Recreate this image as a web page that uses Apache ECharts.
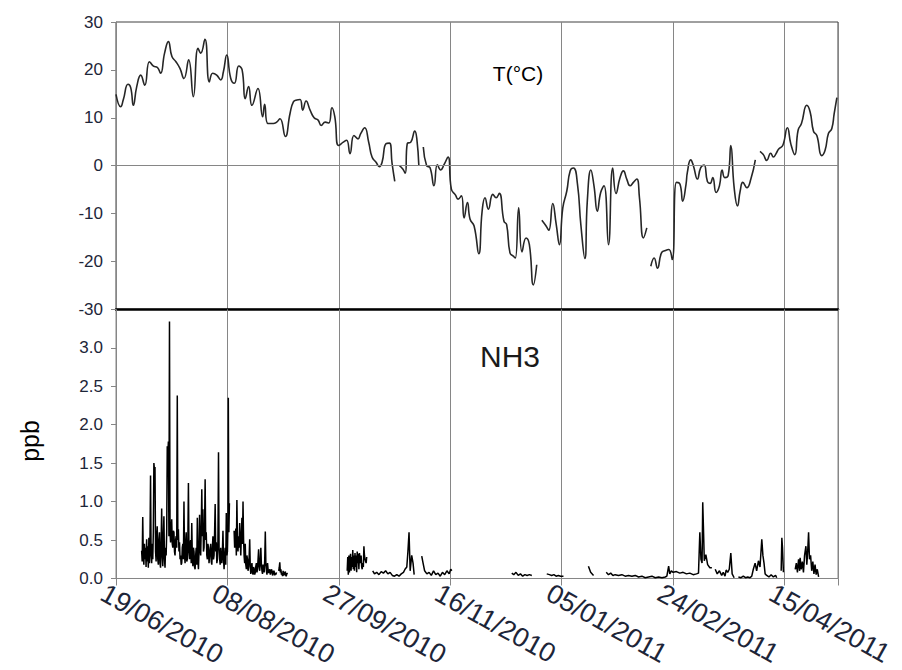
<!DOCTYPE html>
<html>
<head>
<meta charset="utf-8">
<script src="https://cdn.jsdelivr.net/npm/echarts@6/dist/echarts.min.js"></script>
<style>
html,body{margin:0;padding:0;background:#fff;}
#chart{width:902px;height:670px;}
</style>
</head>
<body>
<div id="chart"></div>
<script>
// ---- data (x = days since 19/06/2010) ----
const xTickLabels = ['19/06/2010','08/08/2010','27/09/2010','16/11/2010','05/01/2011','24/02/2011','15/04/2011'];

const tempDay = [0,2.1,3.3,5.4,6.6,7.8,9.3,11.1,12.9,15.0,16.8,18.6,20.0,21.8,23.5,25.1,26.9,28.7,30.5,32.6,34.7,36.8,38.0,39.9,41.9,43.4,45.2,47.0,48.2,49.7,51.5,53.1,55.1,56.6,58.0,59.5,61.0,63.7,65.8,66.7,68.2,70.6,72.1,73.6,76.0,78.1,79.6,81.1,82.6,83.8,85.3,87.1,88.9,90.7,92.1,93.9,95.5,96.9,98.2,99.9,102.0,103.5,105.0,106.8,108.6,109.8,111.6,113.4,114.9,116.7,118.2,119.4,121.2,122.7,123.9,125.1,126.2,127.2,128.7,129.8,130.7,132.3,134.1,135.0,135.9,137.0,137.9,139.4,140.9,142.7,144.2,145.7,147.2,149.0,150.5,152.3,153.5,155.0,156.2,157.7,158.9,160.7,162.8,164.3,165.6,167.1,169.1,170.6,172.0,174.1,175.3,176.8,178.3,179.2,180.7,182.2,184.0,185.5,187.3,188.8,190.0,191.1,193.0,194.2,196.0,197.5,199.0,200.5,202.3,203.8,205.3,207.1,208.6,210.4,211.5,213.1,214.5,216.0,217.5,219.0,221.0,222.9,224.4,226.2,227.7,229.2,230.7,232.2,233.7,234.9,236.7,238.2,239.1,240.0,241.5,243.0,244.8,246.6,248.1,249.6,251.5,253.1,254.3,255.8,256.4,257.9,259.1,260.9,262.4,263.9,265.4,266.6,267.8,269.3,270.8,272.0,273.2,274.7,275.9,277.4,278.9,280.1,281.3,283.1,284.9,286.9,288.0,289.0,290.5,292.0,293.8,295.0,296.2,297.4,299.2,301.3,302.8,304.6,306.1,307.6,310.0,311.5,313.0,314.5,316.7,318.2,319.7,321.2,322.3,323.5];
const tempVal = [14.9,12.3,13.8,17.0,16.3,12.6,16.5,18.9,16.8,21.7,20.8,20.5,19.3,23.5,25.9,22.8,21.7,20.3,18.2,22.1,14.4,24.5,23.5,26.4,17.5,19.3,18.9,17.9,19.6,23.1,18.2,17.2,20.8,20.0,14.0,16.5,12.6,16.1,10.2,12.8,8.8,8.8,9.1,9.8,6.1,10.9,13.3,13.7,13.8,11.6,13.5,11.6,10.0,9.5,8.4,9.1,8.9,12.1,10.2,4.2,4.9,5.3,2.5,6.3,5.6,6.7,7.9,4.9,1.8,0.7,-0.2,0.7,4.6,4.7,0.4,-3.3,null,0,-0.7,-1.6,4.6,4.9,7.2,5.6,0,null,3.9,0,-0.4,-4.2,0.2,-0.9,0.2,1.8,-4.9,-6.1,-7.0,-6.3,-10.9,-7.7,-11.2,-12.6,-18.4,-9.5,-6.7,-9.1,-6.0,-6.7,-5.8,-11.6,-12.3,-18.2,-18.9,-19.3,-8.8,-18.0,-15.1,-16.5,-24.9,-20.7,null,-11.4,-12.6,-13.5,-7.9,-12.1,-16.5,-8.8,-5.3,-1.1,-0.5,-3.9,-12.3,-19.4,-7.4,-0.9,-4.2,-9.5,-5.6,-4.2,-16.5,-0.5,-5.8,-2.5,-1.1,-2.8,-4.2,-3.5,-2.8,-6.7,-15.1,-13.0,null,-21.0,-19.3,-21.4,-18.2,-17.7,-17.5,-19.6,-3.5,-3.9,-7.4,-3.9,-1.4,1.2,0,-2.8,-0.4,0.1,-3.3,-3.7,-2.5,-5.6,-4.2,-0.9,-2.5,-2.1,4.2,-4.6,-8.4,-5.3,-3.5,-4.6,-2.8,1.2,null,3.0,2.3,1.1,2.6,1.8,2.5,3.5,4.2,7.9,4.6,2.3,7.4,8.8,12.6,11.2,7.2,6.3,2.1,3.2,6.7,7.7,10.9,14.2];

const nh3Day = [
11.50,11.75,12.00,12.25,12.50,12.75,13.00,13.25,13.50,13.75,14.00,14.25,14.50,14.75,15.00,15.25,
15.50,15.75,16.00,16.25,16.50,16.75,17.00,17.25,17.50,17.75,18.00,18.25,18.50,18.75,19.00,19.25,19.50,19.75,
20.00,20.25,20.50,20.75,21.00,21.25,21.50,21.75,22.00,22.25,22.50,22.75,23.00,23.25,23.50,23.75,
24.00,24.25,24.50,24.75,25.00,25.25,25.50,25.75,26.00,26.25,26.50,26.75,27.00,27.25,27.50,27.75,
28.00,28.25,28.50,28.75,29.00,29.25,29.50,29.75,30.00,30.25,30.50,30.75,31.00,31.25,31.50,31.75,
32.00,32.25,32.50,32.75,33.00,33.25,33.50,33.75,34.00,34.25,34.50,34.75,35.00,35.25,35.50,35.75,
36.00,36.25,36.50,36.75,37.00,37.25,37.50,37.75,38.00,38.25,38.50,38.75,39.00,39.25,39.50,39.75,
40.00,40.25,40.50,40.75,41.00,41.25,41.50,41.75,42.00,42.25,42.50,42.75,43.00,43.25,43.50,43.75,
44.00,44.25,44.50,44.75,45.00,45.25,45.50,45.75,46.00,46.25,46.50,46.75,47.00,47.25,47.50,47.75,
48.00,48.25,48.50,48.75,49.00,49.25,49.50,49.75,50.00,50.25,50.40,50.65,50.90,51.20,
53.00,53.25,53.50,53.75,54.00,54.25,54.50,54.75,55.00,55.25,55.50,55.75,56.00,56.25,56.50,56.75,
57.00,57.25,57.50,57.75,58.00,58.25,58.50,58.75,59.00,59.25,59.50,59.75,60.00,60.25,60.50,60.75,
61.00,61.25,61.50,61.75,62.00,62.25,62.50,62.75,63.00,63.25,63.50,63.75,64.00,64.25,64.50,64.75,
65.00,65.25,65.50,65.75,66.00,66.25,66.50,66.75,67.00,67.25,67.50,67.75,68.00,68.25,68.50,68.75,
69.00,69.25,69.50,69.75,70.00,70.25,70.50,70.75,71.00,71.25,71.50,71.75,72.00,72.50,
73.00,73.25,73.50,73.75,74.00,74.25,74.50,74.75,75.00,75.25,75.50,75.75,76.00,76.25,76.50,76.75,77.00,77.50,
103.75,104.00,104.25,104.50,104.75,105.00,105.25,105.50,105.75,106.00,106.25,106.50,106.75,107.00,107.25,107.50,
107.75,108.00,108.25,108.50,108.75,109.00,109.25,109.50,109.75,110.00,110.25,110.50,110.75,111.00,111.25,111.50,
111.75,112.00,112.25,112.50,113.00,
115.2,116.0,117.0,118.0,119.0,120.0,121.0,122.0,123.0,124.0,125.0,126.0,127.0,128.0,129.0,129.7,130.5,131.0,131.5,132.0,132.7,133.3,133.8,135.0,
137.2,137.8,138.5,139.5,140.5,141.5,142.5,143.5,144.5,145.5,146.5,147.5,148.5,149.5,150.2,150.7,151.5,
177.6,178.5,179.5,180.5,181.5,182.5,183.5,184.5,185.5,186.6,187.5,
193.3,194.5,195.5,196.5,197.5,198.5,199.5,200.8,201.5,
212.0,213.0,214.3,215.0,
220.0,221.0,222.0,223.0,224.0,225.5,227.0,228.5,230.0,231.5,233.0,234.5,236.0,237.5,239.0,240.5,242.0,243.5,245.0,246.5,247.2,248.0,248.5,249.2,250.0,251.5,253.0,254.5,256.0,257.5,259.0,260.5,261.4,262.0,262.5,263.0,263.3,263.6,264.0,264.7,265.5,266.5,267.4,268.2,
268.9,269.8,270.8,271.8,272.5,273.3,273.8,274.5,275.2,275.9,276.5,277.4,278.3,
279.3,280.5,281.5,282.5,283.5,284.5,285.3,286.0,286.8,287.5,288.3,289.0,289.8,290.3,290.8,291.3,292.0,293.0,294.0,295.0,296.0,296.5,297.5,
298.5,298.8,299.1,299.5,302.0,
304.8,305.3,305.8,306.3,306.8,307.0,307.5,308.0,308.5,309.0,309.6,310.0,310.4,310.8,311.2,311.7,312.2,312.7,313.2,313.7,314.2,314.7,315.3];
const nh3Val = [
0.36,0.22,0.80,0.30,0.18,0.45,0.25,0.40,0.15,0.51,0.22,0.42,0.14,0.53,0.20,0.48,
1.34,0.30,0.20,0.45,0.25,0.60,1.50,1.42,1.45,0.35,0.22,0.55,0.68,0.25,0.18,0.50,0.60,0.20,
0.14,0.45,0.91,0.30,0.16,0.55,0.81,0.25,0.14,0.40,0.30,0.60,1.72,1.60,1.78,0.55,
3.34,0.60,0.47,0.65,0.77,0.45,0.40,0.62,0.60,0.35,0.30,0.50,0.55,0.40,2.38,0.50,
0.64,0.35,0.47,0.25,0.30,0.18,0.20,0.40,0.45,0.25,1.00,0.30,0.20,0.45,0.60,0.22,
0.25,0.50,1.24,0.35,0.25,0.45,0.50,0.20,0.72,0.30,0.16,0.40,0.35,0.15,0.12,0.30,
0.40,0.18,0.79,0.25,0.12,0.35,0.83,0.40,0.30,0.65,1.16,0.55,0.90,0.35,0.40,0.70,
1.29,0.50,0.60,0.30,0.25,0.45,0.40,0.20,0.20,0.38,0.45,0.22,0.18,0.40,0.55,0.25,
0.30,0.60,0.97,0.35,0.47,0.20,0.25,0.50,1.64,0.40,0.25,0.18,0.40,0.22,0.20,0.35,
0.62,0.25,0.12,0.30,0.40,0.18,0.85,0.30,0.35,0.70,2.35,0.60,0.98,null,
0.62,0.40,0.47,0.65,0.30,1.02,0.50,0.35,0.55,0.40,0.72,0.50,0.30,0.55,0.79,0.45,
1.00,0.50,0.29,0.20,0.45,0.18,0.12,0.30,0.25,0.10,0.15,0.28,0.51,0.15,0.06,0.14,
0.20,0.08,0.05,0.15,0.12,0.05,0.08,0.16,0.20,0.08,0.12,0.25,0.38,0.15,0.10,0.22,
0.40,0.18,0.10,0.06,0.18,0.10,0.08,0.25,0.61,0.20,0.10,0.05,0.20,0.12,0.07,0.10,
0.12,0.05,0.08,0.12,0.10,0.04,0.06,0.10,0.09,0.04,0.07,0.05,0.08,null,
0.10,0.14,0.21,0.08,0.12,0.05,0.06,0.03,0.10,0.04,0.05,0.08,0.09,0.03,0.04,0.07,0.06,null,
0.10,0.28,0.05,0.30,0.08,0.25,0.32,0.10,0.28,0.15,0.37,0.12,0.30,0.10,0.33,0.15,
0.30,0.08,0.35,0.20,0.32,0.12,0.33,0.25,0.20,0.30,0.15,0.12,0.20,0.15,0.42,0.30,
0.25,0.22,0.20,0.28,null,
0.10,0.06,0.08,0.05,0.09,0.07,0.10,0.06,0.08,0.04,0.03,0.05,0.03,0.06,0.08,0.12,0.15,0.35,0.60,0.10,0.30,0.20,0.05,null,
0.29,0.20,0.10,0.06,0.08,0.04,0.10,0.05,0.07,0.03,0.08,0.05,0.10,0.06,0.12,0.10,null,
0.07,0.05,0.08,0.04,0.06,0.03,0.05,0.04,0.05,0.04,null,
0.06,0.05,0.04,0.05,0.03,0.04,0.03,0.03,null,
0.16,0.08,0.04,null,
0.08,0.05,0.07,0.04,0.05,0.04,0.05,0.03,0.04,0.03,0.04,0.02,0.03,0.01,0.02,0.03,0.01,0.02,0.01,0.02,0.03,0.16,0.06,0.10,0.08,0.09,0.07,0.08,0.06,0.07,0.05,0.06,0.07,0.60,0.25,0.20,0.99,0.68,0.23,0.31,0.18,0.14,0.14,null,
0.12,0.06,0.10,0.04,0.08,0.03,0.11,0.08,0.12,0.33,0.06,0.01,null,
0.02,0.01,0.03,0.01,0.02,0.01,0.03,0.12,0.20,0.10,0.23,0.15,0.51,0.30,0.20,0.06,0.04,0.02,0.05,0.02,0.04,0.01,null,
0.10,0.53,0.40,0.08,null,
0.12,0.20,0.08,0.25,0.10,0.27,0.12,0.22,0.08,0.30,0.42,0.18,0.35,0.60,0.25,0.30,0.10,0.22,0.06,0.18,0.05,0.12,0.02];

// ---- chart ----
const FONT = '"Liberation Sans", Arial, sans-serif';
const GRID_GRAY = '#868686';
const LABEL_COLOR = '#1d2538';

function xLabel(v) {
  const i = v / 50;
  const k = Math.round(i);
  return (Math.abs(i - k) < 1e-6 && xTickLabels[k]) ? xTickLabels[k] : '';
}

const tempData = tempDay.map((d, i) => [d, tempVal[i]]);
const nh3Data = nh3Day.map((d, i) => [d, nh3Val[i]]);

const chart = echarts.init(document.getElementById('chart'), null, {renderer: 'svg'});
chart.setOption({
  animation: false,
  backgroundColor: '#ffffff',
  textStyle: {fontFamily: FONT},
  grid: [
    {left: 116, right: 64, top: 22, height: 287.3, show: true, borderColor: '#404040', borderWidth: 1, backgroundColor: 'transparent'},
    {left: 116, right: 64, top: 309.3, height: 270, show: true, borderColor: GRID_GRAY, borderWidth: 1, backgroundColor: 'transparent'}
  ],
  xAxis: [
    {
      gridIndex: 0, type: 'value', min: 0, max: 324, interval: 50,
      axisLine: {show: true, onZero: false, lineStyle: {color: '#000000', width: 2.5}},
      axisTick: {show: true, length: 5, lineStyle: {color: GRID_GRAY}},
      axisLabel: {show: false},
      splitLine: {show: true, lineStyle: {color: GRID_GRAY, width: 1}}
    },
    {
      gridIndex: 1, type: 'value', min: 0, max: 324, interval: 50,
      axisLine: {show: true, onZero: false, lineStyle: {color: GRID_GRAY, width: 1}},
      axisTick: {show: true, length: 7, lineStyle: {color: GRID_GRAY}},
      axisLabel: {
        show: true, rotate: -29, margin: 20, fontSize: 27, fontFamily: FONT, color: LABEL_COLOR,
        padding: [0, 0, 0, -15], formatter: xLabel
      },
      splitLine: {show: true, lineStyle: {color: GRID_GRAY, width: 1}}
    }
  ],
  yAxis: [
    {
      gridIndex: 0, type: 'value', min: -30, max: 30, interval: 10,
      axisLine: {show: true, lineStyle: {color: GRID_GRAY}},
      axisTick: {show: true, length: 5, lineStyle: {color: GRID_GRAY}},
      axisLabel: {fontSize: 17, fontFamily: FONT, color: LABEL_COLOR, margin: 13},
      splitLine: {show: false}
    },
    {
      gridIndex: 1, type: 'value', min: 0, max: 3.5, interval: 0.5,
      axisLine: {show: true, lineStyle: {color: GRID_GRAY}},
      axisTick: {show: true, length: 5, lineStyle: {color: GRID_GRAY}},
      axisLabel: {fontSize: 17, fontFamily: FONT, color: LABEL_COLOR, margin: 13,
        formatter: v => (v > 3.4 ? '' : v.toFixed(1))},
      splitLine: {show: false}
    }
  ],
  series: [
    {
      name: 'T', type: 'line', xAxisIndex: 0, yAxisIndex: 0, data: tempData,
      showSymbol: false, smooth: 0.5, connectNulls: false,
      lineStyle: {color: '#262626', width: 1.6},
      markLine: {silent: true, symbol: 'none', label: {show: false},
        lineStyle: {color: GRID_GRAY, type: 'solid', width: 1}, data: [{yAxis: 0}]},
      z: 3
    },
    {
      name: 'NH3', type: 'line', xAxisIndex: 1, yAxisIndex: 1, data: nh3Data,
      showSymbol: false, connectNulls: false,
      lineStyle: {color: '#000000', width: 1.5},
      z: 3
    }
  ],
  graphic: [
    {type: 'text', x: 518, y: 73, style: {text: 'T(°C)', font: '21px ' + FONT, fill: '#000', align: 'center', verticalAlign: 'middle'}},
    {type: 'text', x: 510, y: 356, style: {text: 'NH3', font: '30px ' + FONT, fill: '#1a1a1a', align: 'center', verticalAlign: 'middle'}},
    {type: 'text', x: 30, y: 441, rotation: Math.PI / 2, style: {text: 'ppb', font: '25px ' + FONT, fill: '#000', align: 'center', verticalAlign: 'middle'}}
  ]
});
</script>
</body>
</html>
